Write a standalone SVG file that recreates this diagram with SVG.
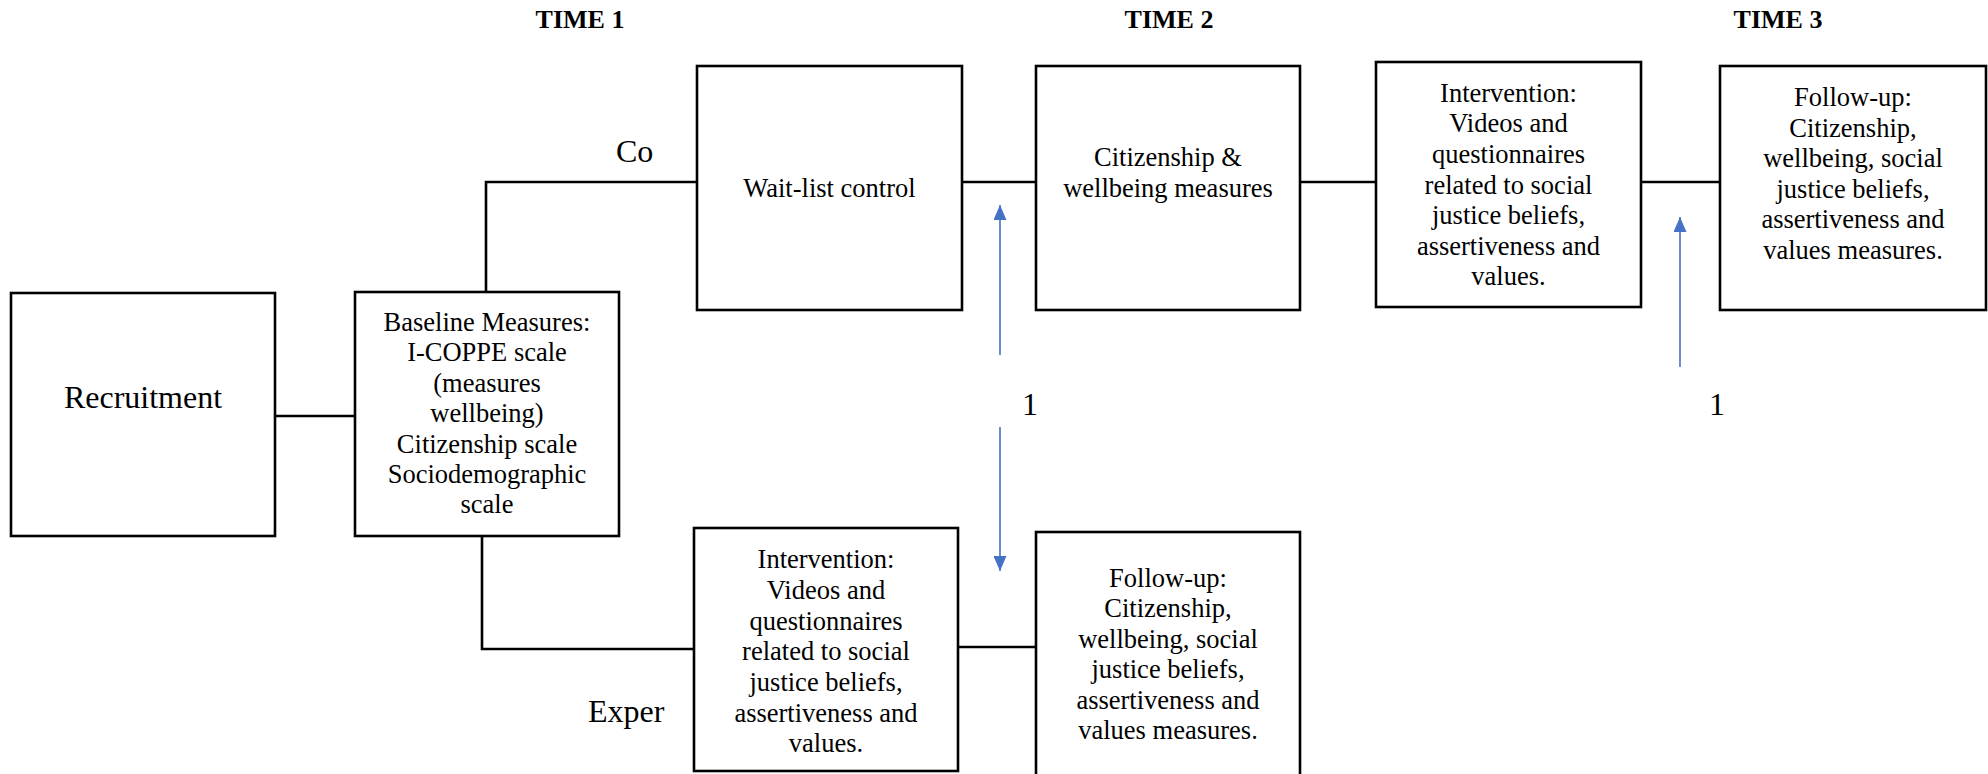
<svg xmlns="http://www.w3.org/2000/svg" width="1988" height="774" viewBox="0 0 1988 774">
<style>
.box{fill:#fff;stroke:#000;stroke-width:2.6}
.ln{fill:none;stroke:#000;stroke-width:2.6}
.bl{fill:none;stroke:#4472C4;stroke-width:1.6}
.t{font-family:"Liberation Serif","Times New Roman",serif;font-size:26.5px;fill:#000;text-anchor:middle}
.big{font-family:"Liberation Serif","Times New Roman",serif;font-size:32px;fill:#000}
.hd{font-family:"Liberation Serif","Times New Roman",serif;font-size:26px;font-weight:bold;fill:#000;text-anchor:middle}
</style>
<defs>
<marker id="ah" viewBox="0 0 15 13" refX="15" refY="6.5" markerWidth="15" markerHeight="13" markerUnits="userSpaceOnUse" orient="auto">
<path d="M0,0 L15,6.5 L0,13 z" fill="#4472C4"/>
</marker>
</defs>
<g id="headers">
<text class="hd" x="580" y="28">TIME 1</text>
<text class="hd" x="1169" y="28">TIME 2</text>
<text class="hd" x="1778" y="28">TIME 3</text>
</g>
<g id="connectors">
<polyline class="ln" points="275,416 355,416"/>
<polyline class="ln" points="486,292 486,182 697,182"/>
<polyline class="ln" points="962,182 1036,182"/>
<polyline class="ln" points="1300,182 1376,182"/>
<polyline class="ln" points="1641,182 1720,182"/>
<polyline class="ln" points="482,536 482,649 694,649"/>
<polyline class="ln" points="958,647 1036,647"/>
<line class="bl" x1="1000" y1="355" x2="1000" y2="205" marker-end="url(#ah)"/>
<line class="bl" x1="1000" y1="427" x2="1000" y2="571" marker-end="url(#ah)"/>
<line class="bl" x1="1680" y1="367" x2="1680" y2="217" marker-end="url(#ah)"/>
</g>
<g id="labels">
<text class="big" x="616" y="162">Co</text>
<text class="big" x="588" y="722">Exper</text>
<text class="big" x="1030" y="415" text-anchor="middle">1</text>
<text class="big" x="1717" y="415" text-anchor="middle">1</text>
</g>
<g id="recruitment">
<rect class="box" x="11" y="293" width="264" height="243"/>
<text class="big" x="143" y="408" text-anchor="middle">Recruitment</text>
</g>
<g id="baseline">
<rect class="box" x="355" y="292" width="264" height="244"/>
<text class="t" x="487" y="331">Baseline Measures:</text>
<text class="t" x="487" y="361.4">I-COPPE scale</text>
<text class="t" x="487" y="391.8">(measures</text>
<text class="t" x="487" y="422.2">wellbeing)</text>
<text class="t" x="487" y="452.6">Citizenship scale</text>
<text class="t" x="487" y="483">Sociodemographic</text>
<text class="t" x="487" y="513.4">scale</text>
</g>
<g id="waitlist">
<rect class="box" x="697" y="66" width="265" height="244"/>
<text class="t" x="829.5" y="197">Wait-list control</text>
</g>
<g id="citizenship">
<rect class="box" x="1036" y="66" width="264" height="244"/>
<text class="t" x="1168" y="166">Citizenship &amp;</text>
<text class="t" x="1168" y="197">wellbeing measures</text>
</g>
<g id="intervention-top">
<rect class="box" x="1376" y="62" width="265" height="245"/>
<text class="t" x="1508.5" y="101.7">Intervention:</text>
<text class="t" x="1508.5" y="132.3">Videos and</text>
<text class="t" x="1508.5" y="163">questionnaires</text>
<text class="t" x="1508.5" y="193.5">related to social</text>
<text class="t" x="1508.5" y="224">justice beliefs,</text>
<text class="t" x="1508.5" y="254.5">assertiveness and</text>
<text class="t" x="1508.5" y="285">values.</text>
</g>
<g id="followup-top">
<rect class="box" x="1720" y="66" width="266" height="244"/>
<text class="t" x="1853" y="106">Follow-up:</text>
<text class="t" x="1853" y="136.5">Citizenship,</text>
<text class="t" x="1853" y="167">wellbeing, social</text>
<text class="t" x="1853" y="197.5">justice beliefs,</text>
<text class="t" x="1853" y="228">assertiveness and</text>
<text class="t" x="1853" y="258.5">values measures.</text>
</g>
<g id="intervention-bottom">
<rect class="box" x="694" y="528" width="264" height="243"/>
<text class="t" x="826" y="568.3">Intervention:</text>
<text class="t" x="826" y="599">Videos and</text>
<text class="t" x="826" y="629.7">questionnaires</text>
<text class="t" x="826" y="660.3">related to social</text>
<text class="t" x="826" y="691">justice beliefs,</text>
<text class="t" x="826" y="721.7">assertiveness and</text>
<text class="t" x="826" y="752.3">values.</text>
</g>
<g id="followup-bottom">
<rect class="box" x="1036" y="532" width="264" height="250"/>
<text class="t" x="1168" y="586.7">Follow-up:</text>
<text class="t" x="1168" y="617.3">Citizenship,</text>
<text class="t" x="1168" y="647.8">wellbeing, social</text>
<text class="t" x="1168" y="678.3">justice beliefs,</text>
<text class="t" x="1168" y="708.8">assertiveness and</text>
<text class="t" x="1168" y="739.3">values measures.</text>
</g>
</svg>
